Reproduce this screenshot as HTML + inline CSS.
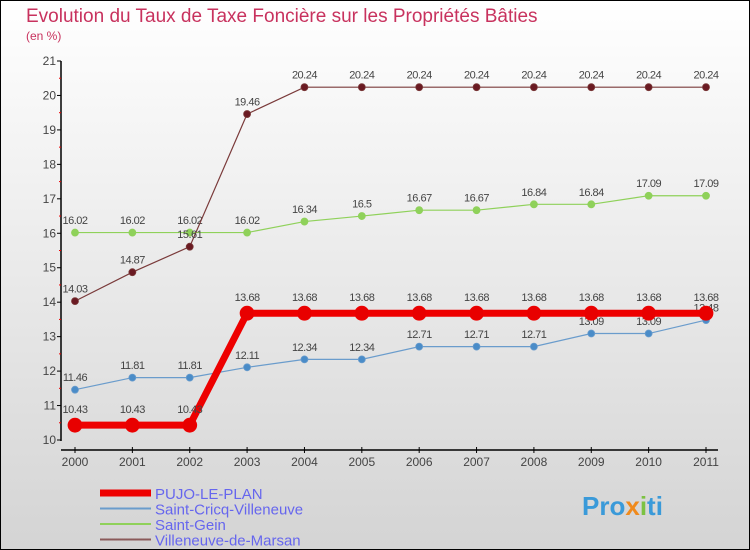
<!DOCTYPE html>
<html><head><meta charset="utf-8"><style>
body{margin:0;width:750px;height:550px;overflow:hidden}
svg{display:block;font-family:"Liberation Sans",sans-serif}
</style></head><body>
<svg width="750" height="550">
<defs><linearGradient id="bg" x1="0" y1="0" x2="0" y2="1"><stop offset="0" stop-color="#ffffff"/><stop offset="1" stop-color="#d4d4d4"/></linearGradient></defs>
<rect x="0.5" y="0.5" width="749" height="549" fill="url(#bg)" stroke="#000"/>
<text x="26" y="22" font-size="19" fill="#c8325e">Evolution du Taux de Taxe Foncière sur les Propriétés Bâties</text>
<text x="26" y="40" font-size="12" fill="#c8325e">(en %)</text>
<g id="axes"></g>
<g id="series"></g>
<g id="legend"></g>
<text x="582" y="515" font-size="26" font-weight="bold" fill="#3a9ad9">Pro<tspan fill="#f08a1c">x</tspan><tspan fill="#7cc242">i</tspan>ti</text>
</svg>
<script>
const years=[2000,2001,2002,2003,2004,2005,2006,2007,2008,2009,2010,2011];
const pujo=[10.43,10.43,10.43,13.68,13.68,13.68,13.68,13.68,13.68,13.68,13.68,13.68];
const cricq=[11.46,11.81,11.81,12.11,12.34,12.34,12.71,12.71,12.71,13.09,13.09,13.48];
const gein=[16.02,16.02,16.02,16.02,16.34,16.5,16.67,16.67,16.84,16.84,17.09,17.09];
const marsan=[14.03,14.87,15.61,19.46,20.24,20.24,20.24,20.24,20.24,20.24,20.24,20.24];
const yTicks=[10,11,12,13,14,15,16,17,18,19,20,21];
const NS="http://www.w3.org/2000/svg";
const X=i=>75+i*(706-75)/11;
const Y=v=>440-(v-10)*(440-61)/11;
function mk(tag,attrs,parent,txt){const e=document.createElementNS(NS,tag);for(const k in attrs)e.setAttribute(k,attrs[k]);if(txt!==undefined)e.textContent=txt;parent.appendChild(e);return e;}
const ax=document.getElementById('axes');
let yl=mk('line',{x1:61,y1:61,x2:61,y2:441,stroke:'#000','stroke-width':1.5},ax);


yTicks.forEach(t=>{
 const tk=mk('line',{x1:57,x2:61,y1:Y(t),y2:Y(t),stroke:'#000'},ax);
 
 
 const lb=mk('text',{x:56,y:Y(t)+4,'text-anchor':'end','font-size':12,fill:'#444'},ax,t);
 
 
 if(t<21){const m=mk('line',{x1:59,x2:61,y1:Y(t+0.5),y2:Y(t+0.5),stroke:'#e00'},ax);
 
 }
});
let xl=mk('line',{x1:61,y1:450,x2:718,y2:450,stroke:'#000','stroke-width':1.5},ax);


years.forEach((y,i)=>{
 const tk=mk('line',{x1:X(i),x2:X(i),y1:447,y2:453,stroke:'#000'},ax);
 
 
 const lb=mk('text',{x:X(i),y:466,'text-anchor':'middle','font-size':12,fill:'#444'},ax,y);
 
 
});
const sg=document.getElementById('series');
function series(name,vals,color,w,r,fill){
 const g=mk('g',{},sg);
 
 
 const p=mk('polyline',{points:vals.map((v,i)=>X(i)+','+Y(v)).join(' '),fill:'none',stroke:color,'stroke-width':w},g);
 
 
 vals.forEach((v,i)=>{
  const c=mk('circle',{cx:X(i),cy:Y(v),r:r,fill:fill,stroke:color,'stroke-width':0.8},g);
  
  
  const t=mk('text',{x:X(i),y:Y(v)-r-5,'text-anchor':'middle','font-size':11,fill:'#444','letter-spacing':'-0.5'},g,String(v));
  
  
 });
}
series('saint-gein',gein,'#8fd15a',1.2,3.5,'#8fd15a');
series('saint-cricq',cricq,'#6a9ccc',1.2,3.5,'#4a8cc8');
series('villeneuve-de-marsan',marsan,'#7a3a3a',1.2,3.5,'#6a1a22');
series('pujo-le-plan',pujo,'#ee0000',7,7,'#e80000');
const lg=document.getElementById('legend');
const items=[['PUJO-LE-PLAN','#ee0000',7],['Saint-Cricq-Villeneuve','#6a9ccc',2],['Saint-Gein','#8fd15a',2],['Villeneuve-de-Marsan','#8a5a5a',2]];
items.forEach((it,i)=>{
 const y=493+i*15.5;
 const g=mk('g',{},lg);
 
 
 mk('line',{x1:100,x2:151,y1:y,y2:y,stroke:it[1],'stroke-width':it[2]},g);
 mk('text',{x:155,y:y+6,'font-size':15,fill:'#6666ee'},g,it[0]);
});
</script>
</body></html>
